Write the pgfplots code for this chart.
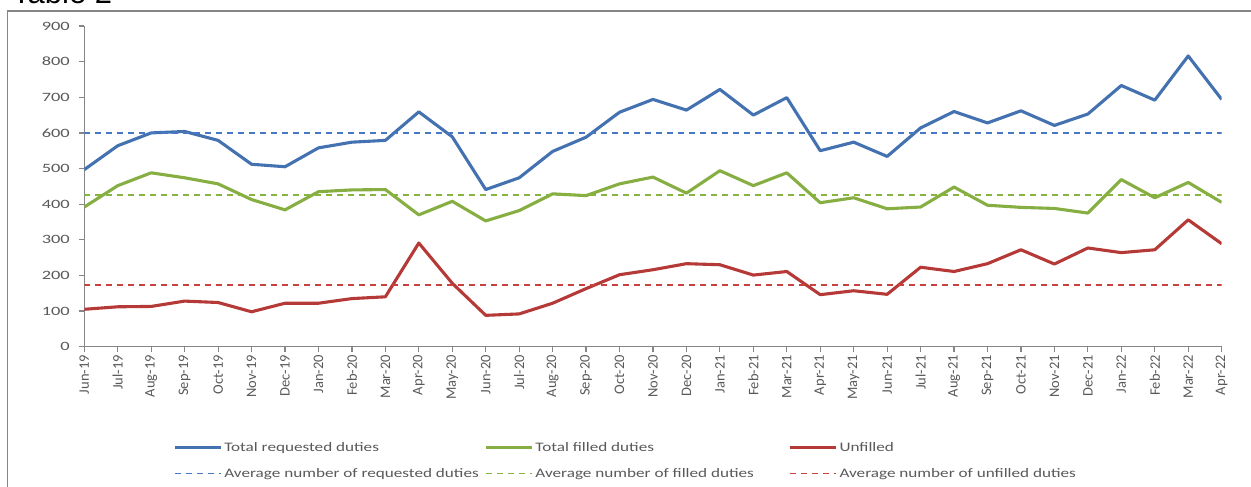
\documentclass[border=0pt]{standalone}
\usepackage{pgfplots}
\pgfplotsset{compat=1.18}
\usepackage{pgfplotstable}
\usepackage{fontspec}
\setmainfont{Carlito}[FakeStretch=1.45]
\newfontfamily\legfont{Carlito}[FakeStretch=1.32]
\newfontfamily\rotfont{Carlito}
\newfontfamily\titlefont{Liberation Sans}
\definecolor{cblue}{RGB}{68,114,176}
\definecolor{cgreen}{RGB}{134,174,66}
\definecolor{cred}{RGB}{181,58,55}
\definecolor{avgbluec}{RGB}{70,120,195}
\definecolor{avggreenc}{RGB}{134,180,60}
\definecolor{avgredc}{RGB}{200,65,60}
\definecolor{txt}{RGB}{89,89,89}
\definecolor{axgray}{RGB}{134,134,134}
\pgfplotstableread{
i blue green red
0 497 392 105
1 564 452 112
2 600 488 113
3 604 474 128
4 579 457 124
5 512 413 98
6 505 384 122
7 558 435 122
8 574 440 135
9 579 441 140
10 659 370 291
11 589 408 178
12 441 353 88
13 474 382 92
14 548 429 122
15 588 424 163
16 658 457 202
17 694 476 216
18 664 431 233
19 722 494 230
20 650 452 201
21 699 488 211
22 550 404 146
23 574 418 157
24 534 387 147
25 614 392 223
26 660 448 211
27 628 397 233
28 662 391 272
29 621 388 232
30 653 375 277
31 733 469 264
32 692 418 272
33 816 461 356
34 694 405 289
}\datatable
\pgfplotstableread{
i avgblue avggreen avgred
0 599 425 173
34 599 425 173
}\avgtable
\begin{document}
\begin{tikzpicture}[x=1pt,y=1pt]
\path[use as bounding box, clip] (0,0) rectangle (1251,487);
\draw[axgray, line width=1.3pt] (7.5,-10) -- (7.5,476) -- (1270,476);
\node[anchor=base west, inner sep=0pt, font=\titlefont\fontsize{31}{31}\selectfont] at (12,483) {Table 2};
\begin{axis}[
  at={(84.3pt,140.3pt)}, anchor=south west,
  scale only axis, width=1137.4pt, height=320.7pt,
  xmin=0, xmax=34, ymin=0, ymax=900,
  enlargelimits=false,
  axis lines*=left,
  axis line style={axgray, line width=1.2pt},
  tick style={axgray, line width=1.2pt},
  tick align=outside, major tick length=5pt,
  ytick={0,100,...,900},
  xtick={0,1,...,34},
  xticklabels={Jun-19,Jul-19,Aug-19,Sep-19,Oct-19,Nov-19,Dec-19,Jan-20,Feb-20,Mar-20,Apr-20,May-20,Jun-20,Jul-20,Aug-20,Sep-20,Oct-20,Nov-20,Dec-20,Jan-21,Feb-21,Mar-21,Apr-21,May-21,Jun-21,Jul-21,Aug-21,Sep-21,Oct-21,Nov-21,Dec-21,Jan-22,Feb-22,Mar-22,Apr-22},
  xticklabel style={rotate=90, anchor=east, text=txt, font=\rotfont\fontsize{14.5}{14.5}\selectfont},
  yticklabel style={text=txt, font=\fontsize{12.7}{13}\selectfont, xshift=-6pt},
  /pgf/number format/assume math mode=true,
  legend columns=3,
  legend cell align=left,
  legend style={draw=none, fill=none, inner sep=0pt, at={(axis description cs:0.078,-0.292)}, anchor=north west,
    font=\legfont\fontsize{13}{13}\selectfont, text=txt, row sep=11pt},
  legend image code/.code={\draw[#1] (0pt,0pt) -- (46pt,0pt);},
]
\addplot[color=cblue, line width=3.1pt, line join=round] table[x=i,y=blue]{\datatable};
\addlegendentry{\makebox[258pt][l]{Total requested duties}}
\addplot[color=cgreen, line width=3.1pt, line join=round] table[x=i,y=green]{\datatable};
\addlegendentry{\makebox[251pt][l]{Total filled duties}}
\addplot[color=cred, line width=3.1pt, line join=round] table[x=i,y=red]{\datatable};
\addlegendentry{Unfilled}
\addplot[color=avgbluec, line width=1.6pt, dash pattern=on 6pt off 5pt] table[x=i,y=avgblue]{\avgtable};
\addlegendentry{\makebox[258pt][l]{Average number of requested duties}}
\addplot[color=avggreenc, line width=1.6pt, dash pattern=on 6pt off 5pt] table[x=i,y=avggreen]{\avgtable};
\addlegendentry{\makebox[251pt][l]{Average number of filled duties}}
\addplot[color=avgredc, line width=1.6pt, dash pattern=on 6pt off 5pt] table[x=i,y=avgred]{\avgtable};
\addlegendentry{Average number of unfilled duties}
\end{axis}
\end{tikzpicture}
\end{document}
